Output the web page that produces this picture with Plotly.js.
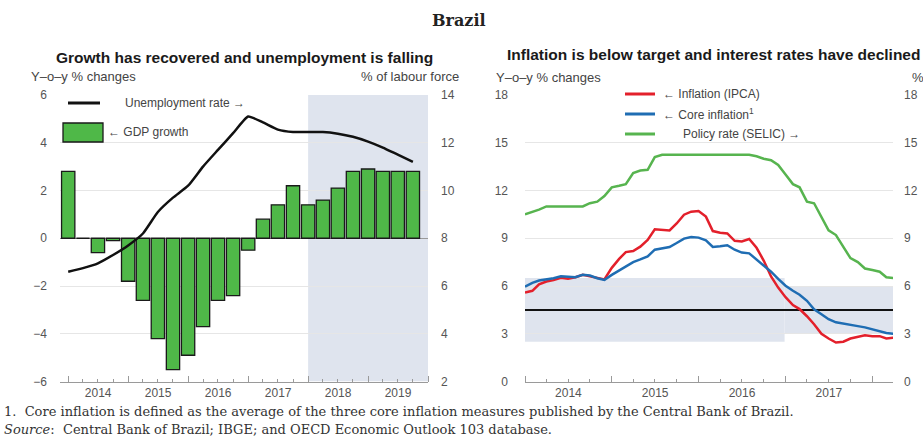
<!DOCTYPE html>
<html>
<head>
<meta charset="utf-8">
<script src="https://cdn.plot.ly/plotly-3.0.1.min.js"></script>
<style>html,body{margin:0;padding:0;background:#fff;}#chart{width:923px;height:444px;}</style>
</head>
<body>
<div id="chart"></div>
<script>
// ---- Left panel data (quarterly, 2014Q1 - 2019Q4) ----
const quarterStart = ['2014','2015','2016','2017','2018','2019'];
const gdpGrowth = [2.8, 0.0, -0.6, -0.1, -1.8, -2.6, -4.2, -5.5, -4.9, -3.7, -2.6, -2.4,
                   -0.5, 0.8, 1.4, 2.2, 1.4, 1.6, 2.1, 2.8, 2.9, 2.8, 2.8, 2.8];
const unemployment = [6.6, 6.75, 6.95, 7.3, 7.7, 8.2, 9.1, 9.7, 10.2, 11.0, 11.7, 12.4,
                      13.1, 12.85, 12.55, 12.45, 12.45, 12.45, 12.38, 12.25, 12.05, 11.8, 11.5, 11.2];

// ---- Right panel data (monthly, Jan 2014 - Apr 2018) ----
const ipca = [5.59, 5.7, 6.1, 6.28, 6.37, 6.52, 6.45, 6.55, 6.7, 6.59, 6.5, 6.41,
              7.14, 7.7, 8.13, 8.2, 8.47, 8.89, 9.56, 9.53, 9.49, 9.93, 10.48, 10.67,
              10.71, 10.36, 9.45, 9.35, 9.3, 8.84, 8.8, 8.95, 8.4, 7.6, 6.6, 5.9,
              5.3, 4.8, 4.55, 4.1, 3.6, 3.0, 2.7, 2.45, 2.5, 2.7, 2.8, 2.9,
              2.85, 2.85, 2.7, 2.75];
const coreInflation = [5.96, 6.2, 6.34, 6.4, 6.49, 6.61, 6.59, 6.55, 6.7, 6.66, 6.49, 6.38,
                       6.7, 6.97, 7.23, 7.5, 7.67, 7.86, 8.28, 8.35, 8.45, 8.7, 8.98, 9.08,
                       9.04, 8.87, 8.45, 8.5, 8.56, 8.28, 8.1, 8.05, 7.65, 7.3, 6.9, 6.45,
                       6.02, 5.7, 5.45, 5.07, 4.54, 4.23, 3.91, 3.72, 3.65, 3.59, 3.48, 3.4,
                       3.27, 3.15, 3.05, 3.0];
const selic = [10.5, 10.65, 10.8, 11.0, 11.0, 11.0, 11.0, 11.0, 11.0, 11.2, 11.3, 11.65,
               12.2, 12.3, 12.4, 13.1, 13.25, 13.3, 14.1, 14.25, 14.25, 14.25, 14.25, 14.25,
               14.25, 14.25, 14.25, 14.25, 14.25, 14.25, 14.25, 14.25, 14.15, 14.0, 13.9, 13.6,
               13.0, 12.4, 12.2, 11.3, 11.2, 10.3, 9.5, 9.2, 8.5, 7.75, 7.5, 7.1,
               7.0, 6.9, 6.55, 6.5];
const targetCentre = 4.5;
const bandOld = [2.5, 6.5];   // target band to end-2016
const bandNew = [3.0, 6.0];   // target band from 2017

// x positions (dates)
const quarters = [];
quarterStart.forEach(y => ['01','04','07','10'].forEach(m => quarters.push(y + '-' + m + '-01')));
const months = [];
for (let i = 0; i < ipca.length; i++) {
  const y = 2014 + Math.floor(i / 12), m = (i % 12) + 1;
  months.push(y + '-' + String(m).padStart(2, '0') + '-01');
}

const W = 923, H = 444;
const px = v => v / W;
const py = v => 1 - v / H;
const yDom = [py(381.5), py(95)];

const SANS = 'Liberation Sans, Arial, sans-serif';
const SERIF = 'DejaVu Serif, Liberation Serif, serif';
const GREEN_BAR = '#4fb848';
const RED = '#e3202b';
const BLUE = '#1f6db3';
const GREEN = '#57b44f';
const GRID = '#e6e6e6';
const AX = '#9a9a9a';
const TICKFONT = {family: SANS, size: 12, color: '#555'};

const traces = [
  {type: 'bar', x: quarters, y: gdpGrowth, xaxis: 'x', yaxis: 'y', width: 7.0e9,
   marker: {color: GREEN_BAR, line: {color: '#1a1a1a', width: 1.3}}, hoverinfo: 'skip'},
  {type: 'scatter', mode: 'lines', x: quarters, y: unemployment, xaxis: 'x', yaxis: 'y2',
   line: {color: '#111', width: 2.5, shape: 'spline', smoothing: 0.5}},
  {type: 'scatter', mode: 'lines', x: months, y: selic, xaxis: 'x2', yaxis: 'y4',
   line: {color: GREEN, width: 2.5}},
  {type: 'scatter', mode: 'lines', x: months, y: ipca, xaxis: 'x2', yaxis: 'y3',
   line: {color: RED, width: 2.5}},
  {type: 'scatter', mode: 'lines', x: months, y: coreInflation, xaxis: 'x2', yaxis: 'y3',
   line: {color: BLUE, width: 2.5}}
];

const xCommon = {
  type: 'date', tickformat: '%Y', dtick: 'M12', tick0: '2014-01-01', ticklabelmode: 'period',
  ticks: 'inside', ticklen: 6, tickcolor: AX, showgrid: false, zeroline: false,
  showline: true, linecolor: AX, linewidth: 1, tickfont: TICKFONT,
  minor: {dtick: 'M3', tick0: '2014-01-01', ticks: 'inside', ticklen: 3, tickcolor: AX, showgrid: false}
};

const layout = {
  width: W, height: H,
  margin: {l: 0, r: 0, t: 0, b: 0},
  paper_bgcolor: '#fff', plot_bgcolor: 'rgba(0,0,0,0)',
  showlegend: false,
  font: {family: SANS, size: 11, color: '#444'},
  xaxis: Object.assign({}, xCommon, {domain: [px(60), px(428)], anchor: 'y',
    range: ['2013-11-12', '2020-01-01']}),
  yaxis: {domain: yDom, anchor: 'x', range: [-6, 6], dtick: 2, tick0: 0,
    showgrid: true, gridcolor: GRID, zeroline: true, zerolinecolor: AX, zerolinewidth: 1,
    ticks: '', ticklabelstandoff: 12, tickfont: TICKFONT, showline: false},
  yaxis2: {overlaying: 'y', side: 'right', anchor: 'x', range: [2, 14], dtick: 2, tick0: 2,
    showgrid: false, zeroline: false, ticks: '', ticklabelstandoff: 12, tickfont: TICKFONT},
  xaxis2: Object.assign({}, xCommon, {domain: [px(525), px(893)], anchor: 'y3',
    range: ['2014-01-01', '2018-03-29']}),
  yaxis3: {domain: yDom, anchor: 'x2', range: [0, 18], dtick: 3, tick0: 0,
    showgrid: true, gridcolor: GRID, zeroline: false, ticks: '', ticklabelstandoff: 16,
    tickfont: TICKFONT},
  yaxis4: {overlaying: 'y3', side: 'right', anchor: 'x2', range: [0, 18], dtick: 3, tick0: 0,
    showgrid: false, zeroline: false, ticks: '', ticklabelstandoff: 10, tickfont: TICKFONT},
  shapes: [
    {type: 'rect', xref: 'x', yref: 'y', x0: '2018-01-01', x1: '2020-01-01', y0: -6, y1: 6,
     fillcolor: '#dfe4ee', line: {width: 0}, layer: 'below'},
    {type: 'rect', xref: 'x2', yref: 'y3', x0: '2014-01-01', x1: '2016-12-28', y0: bandOld[0], y1: bandOld[1],
     fillcolor: '#dfe4ee', line: {width: 0}, layer: 'below'},
    {type: 'rect', xref: 'x2', yref: 'y3', x0: '2016-12-28', x1: '2018-03-29', y0: bandNew[0], y1: bandNew[1],
     fillcolor: '#dfe4ee', line: {width: 0}, layer: 'below'},
    {type: 'line', xref: 'x2', yref: 'y3', x0: '2014-01-01', x1: '2018-03-29', y0: targetCentre, y1: targetCentre,
     line: {color: '#111', width: 2}, layer: 'between'},
    {type: 'line', xref: 'paper', yref: 'paper', x0: px(68), x1: px(100), y0: py(103), y1: py(103),
     line: {color: '#111', width: 3}},
    {type: 'rect', xref: 'paper', yref: 'paper', x0: px(63), x1: px(103), y0: py(142), y1: py(123),
     fillcolor: GREEN_BAR, line: {color: '#1a1a1a', width: 1.3}},
    {type: 'line', xref: 'paper', yref: 'paper', x0: px(625), x1: px(655), y0: py(94), y1: py(94),
     line: {color: RED, width: 3}},
    {type: 'line', xref: 'paper', yref: 'paper', x0: px(625), x1: px(655), y0: py(114), y1: py(114),
     line: {color: BLUE, width: 3}},
    {type: 'line', xref: 'paper', yref: 'paper', x0: px(625), x1: px(655), y0: py(134), y1: py(134),
     line: {color: GREEN, width: 3}}
  ],
  annotations: []
};

function ann(text, x, y, opts) {
  layout.annotations.push(Object.assign({
    text: text, xref: 'paper', yref: 'paper', x: px(x), y: py(y),
    xanchor: 'left', yanchor: 'middle', showarrow: false,
    font: {family: SANS, size: 13, color: '#444'}
  }, opts || {}));
}
const LEG = {family: SANS, size: 12, color: '#444'};
const TIT = {family: SANS, size: 15.5, color: '#1a1a1a'};
const NOTE = {family: SERIF, size: 13, color: '#333'};

ann('<b>Brazil</b>', 459, 21, {xanchor: 'center', font: {family: SERIF, size: 16, color: '#222'}});
ann('<b>Growth has recovered and unemployment is falling</b>', 244, 57, {xanchor: 'center', font: TIT});
ann('<b>Inflation is below target and interest rates have declined</b>', 922, 55, {xanchor: 'right', font: TIT});
ann('Y\u2013o\u2013y % changes', 29, 76);
ann('% of labour force', 461, 76, {xanchor: 'right'});
ann('Y\u2013o\u2013y % changes', 494, 78);
ann('%', 910, 78);
ann('Unemployment rate \u2192', 123, 103, {font: LEG});
ann('\u2190 GDP growth', 106, 132, {font: LEG});
ann('\u2190 Inflation (IPCA)', 661, 94, {font: LEG});
ann('\u2190 Core inflation<sup>1</sup>', 661, 114, {font: LEG});
ann('Policy rate (SELIC) \u2192', 681, 134, {font: LEG});
ann('1.  Core inflation is defined as the average of the three core inflation measures published by the Central Bank of Brazil.', 2, 411, {font: NOTE});
ann('<i>Source</i>:  Central Bank of Brazil; IBGE; and OECD Economic Outlook 103 database.', 2, 429, {font: NOTE});

Plotly.newPlot('chart', traces, layout, {staticPlot: true, displayModeBar: false});
</script>
</body>
</html>
